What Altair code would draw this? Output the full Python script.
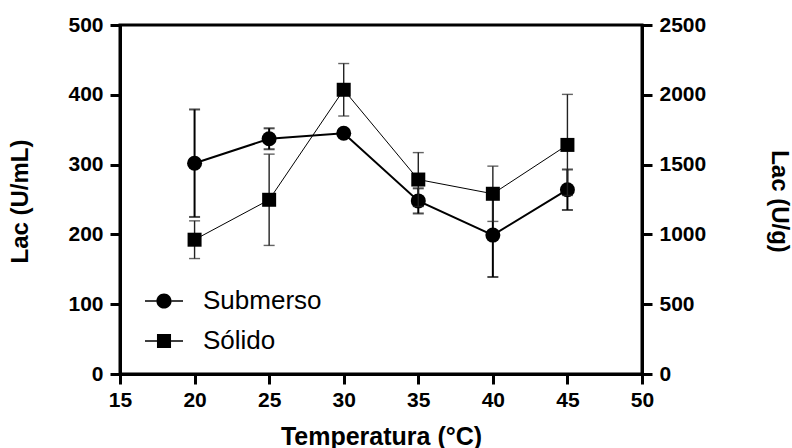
import altair as alt
import pandas as pd

# ---- data ----
temps = [20, 25, 30, 35, 40, 45]
sub_mean = [302, 337, 345, 248, 199, 264]      # Lac (U/mL)
sub_sd = [77, 15, 5, 18, 60, 29]
sol_mean = [962, 1248, 2036, 1393, 1291, 1641]  # Lac (U/g)
sol_sd = [135, 327, 188, 193, 198, 362]
series = ["Submerso", "Sólido"]
x_ticks = [15, 20, 25, 30, 35, 40, 45, 50]
left_ticks = [0, 100, 200, 300, 400, 500]
right_ticks = [0, 500, 1000, 1500, 2000, 2500]

FONT = "Liberation Sans"

sub_df = pd.DataFrame({
    "t": temps, "v": sub_mean,
    "lo": [m - s for m, s in zip(sub_mean, sub_sd)],
    "hi": [m + s for m, s in zip(sub_mean, sub_sd)],
})
sol_df = pd.DataFrame({
    "t": temps, "v": sol_mean,
    "lo": [m - s for m, s in zip(sol_mean, sol_sd)],
    "hi": [m + s for m, s in zip(sol_mean, sol_sd)],
})
leg_df = pd.DataFrame({"serie": series})

x_axis = alt.Axis(
    values=x_ticks, title="Temperatura (°C)", labelFont=FONT, labelFontSize=21,
    labelFontWeight="bold", labelColor="black", labelFlush=False, labelOverlap=False,
    labelPadding=5, tickSize=10, tickWidth=3, tickColor="black", domainWidth=3,
    domainColor="black", grid=False, titleFont=FONT, titleFontSize=25,
    titleFontWeight="bold", titleColor="black", titleBaseline="alphabetic",
    titleX=261, titleY=70,
)
X = alt.X("t:Q", scale=alt.Scale(domain=[15, 50], nice=False), axis=x_axis)

left_axis = alt.Axis(
    orient="left", values=left_ticks, format="d", title="Lac (U/mL)", labelFont=FONT,
    labelFontSize=21, labelFontWeight="bold", labelColor="black", labelPadding=7,
    labelFlush=False, labelOverlap=False, tickSize=10, tickWidth=3, tickColor="black",
    domainWidth=3, domainColor="black", grid=False, titleFont=FONT, titleFontSize=24,
    titleFontWeight="bold", titleColor="black", titleAngle=270,
    titleBaseline="alphabetic", titleX=-93, titleY=176,
)
right_axis = alt.Axis(
    orient="right", values=right_ticks, format="d", title="Lac (U/g)", labelFont=FONT,
    labelFontSize=21, labelFontWeight="bold", labelColor="black", labelPadding=7,
    labelFlush=False, labelOverlap=False, tickSize=10, tickWidth=3, tickColor="black",
    domainWidth=3, domainColor="black", grid=False, titleFont=FONT, titleFontSize=24,
    titleFontWeight="bold", titleColor="black", titleAngle=90,
    titleBaseline="alphabetic", titleX=129, titleY=176,
)

L_SCALE = alt.Scale(domain=[0, 500], nice=False)
R_SCALE = alt.Scale(domain=[0, 2500], nice=False)


def yl(field):
    return alt.Y(f"{field}:Q", scale=L_SCALE, axis=left_axis)


def yr(field):
    return alt.Y(f"{field}:Q", scale=R_SCALE, axis=right_axis)


# ---- Submerso (left axis) ----
sb = alt.Chart(sub_df)
sub_rule = sb.mark_rule(color="black", strokeWidth=2).encode(x=X, y=yl("lo"), y2="hi:Q")
sub_cap_lo = sb.mark_tick(orient="horizontal", color="black", size=11, thickness=2).encode(x=X, y=yl("lo"))
sub_cap_hi = sb.mark_tick(orient="horizontal", color="black", size=11, thickness=2).encode(x=X, y=yl("hi"))
sub_line = sb.mark_line(color="black", strokeWidth=2).encode(x=X, y=yl("v"))
sub_pts = sb.mark_point(shape="circle", filled=True, color="black", size=225, opacity=1).encode(x=X, y=yl("v"))

# legend glyphs: short line with the marker in the middle (all filled shapes)
path_circ = (
    "M0.4,0A0.4,0.4,0,1,1,-0.4,0A0.4,0.4,0,1,1,0.4,0Z"
    "M-1,-0.045L-0.4,-0.045L-0.4,0.045L-1,0.045Z"
    "M0.4,-0.045L1,-0.045L1,0.045L0.4,0.045Z"
)
path_sq = (
    "M-0.37,-0.37L0.37,-0.37L0.37,0.37L-0.37,0.37Z"
    "M-1,-0.04L-0.37,-0.04L-0.37,0.04L-1,0.04Z"
    "M0.37,-0.04L1,-0.04L1,0.04L0.37,0.04Z"
)
legend_layer = alt.Chart(leg_df).mark_point(
    filled=True, color="black", opacity=0
).encode(
    shape=alt.Shape(
        "serie:N",
        scale=alt.Scale(domain=series, range=[path_circ, path_sq]),
        legend=alt.Legend(
            title=None, orient="none", legendX=25, legendY=257, padding=0,
            labelFont=FONT, labelFontSize=26, labelColor="black", labelOffset=20,
            symbolSize=1444, rowPadding=8, symbolStrokeWidth=0,
            symbolFillColor="black", symbolOpacity=1,
        ),
    )
)

left = alt.layer(sub_rule, sub_cap_lo, sub_cap_hi, sub_line, sub_pts, legend_layer)

# ---- Sólido (right axis) ----
sl = alt.Chart(sol_df)
sol_rule = sl.mark_rule(color="#222222", strokeWidth=1.4).encode(x=X, y=yr("lo"), y2="hi:Q")
sol_cap_lo = sl.mark_tick(orient="horizontal", color="#222222", size=11, thickness=1.4).encode(x=X, y=yr("lo"))
sol_cap_hi = sl.mark_tick(orient="horizontal", color="#222222", size=11, thickness=1.4).encode(x=X, y=yr("hi"))
sol_line = sl.mark_line(color="black", strokeWidth=1).encode(x=X, y=yr("v"))
sol_pts = sl.mark_point(shape="square", filled=True, color="black", size=196, opacity=1).encode(x=X, y=yr("v"))

right = alt.layer(sol_rule, sol_cap_lo, sol_cap_hi, sol_line, sol_pts)

chart = (
    alt.layer(left, right)
    .resolve_scale(y="independent")
    .properties(
        width=522, height=349,
        autosize=alt.AutoSizeParams(type="none"),
        padding={"left": 120, "top": 25, "right": 150, "bottom": 74},
        background="white",
    )
    .configure_view(stroke="black", strokeWidth=3)
)

chart.save("out.html", embed_options={"renderer": "svg", "actions": False})
